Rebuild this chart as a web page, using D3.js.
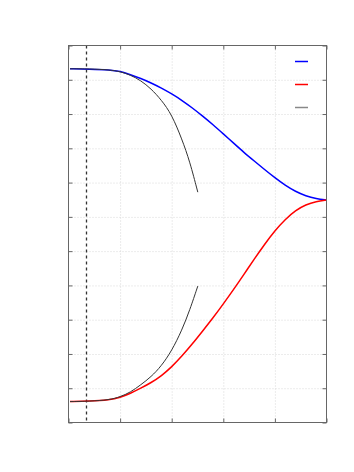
<!DOCTYPE html>
<html>
<head>
<meta charset="utf-8">
<script src="https://cdn.jsdelivr.net/npm/d3@7"></script>
<style>
  body { margin: 0; background: #fff; }
  .grid line { stroke: #d8d8d8; stroke-dasharray: 1,2; }
  .grid path { display: none; }
  .axis path { display: none; }
  .axis line { stroke: #666; }
</style>
</head>
<body>
<script>
// curve data (x: 0..5, y: 0..1.1)
const xFull = [0.03, 0.4, 0.8, 1.0, 1.2, 1.4, 1.6, 1.8, 2.0, 2.2, 2.4, 2.6, 2.8, 3.0,
               3.2, 3.4, 3.6, 3.8, 4.0, 4.2, 4.4, 4.6, 4.8, 5.0];
const blueVals = [1.032, 1.031, 1.029, 1.025, 1.015, 1.004, 0.991, 0.976, 0.959, 0.940,
                  0.918, 0.894, 0.869, 0.842, 0.815, 0.788, 0.763, 0.738, 0.714, 0.692,
                  0.674, 0.661, 0.653, 0.649];
const redVals = [0.061, 0.062, 0.066, 0.073, 0.085, 0.100, 0.116, 0.136, 0.162, 0.194,
                 0.229, 0.267, 0.305, 0.346, 0.388, 0.432, 0.477, 0.520, 0.560, 0.593,
                 0.619, 0.636, 0.645, 0.649];
// approximation curves, shorter
const xApprox = [0.03, 0.4, 0.8, 1.0, 1.2, 1.4, 1.6, 1.8, 2.0, 2.2, 2.35, 2.506];
const approxUpper = [1.032, 1.032, 1.029, 1.024, 1.014, 0.998, 0.974, 0.941, 0.899, 0.826, 0.762, 0.672];
const approxLower = [0.061, 0.062, 0.066, 0.075, 0.088, 0.110, 0.133, 0.165, 0.209, 0.270, 0.328, 0.398];

const markerX = 0.34;
const xTicks = [0, 1, 2, 3, 4, 5];
const yTicks = d3.range(0, 1.1001, 0.1);

const width = 354, height = 472;
const x = d3.scaleLinear().domain([0, 5]).range([68.5, 326.5]);
const y = d3.scaleLinear().domain([0, 1.1]).range([422.5, 45.5]);

const svg = d3.select('body').append('svg')
  .attr('width', width)
  .attr('height', height)
  .style('background-color', '#fff');

// grid
svg.append('g').attr('class', 'grid')
  .attr('transform', `translate(0,${y(0)})`)
  .call(d3.axisBottom(x).tickValues(xTicks.slice(1, -1)).tickSize(-(y(0) - y(1.1))).tickFormat(''));
svg.append('g').attr('class', 'grid')
  .attr('transform', `translate(${x(0)},0)`)
  .call(d3.axisLeft(y).tickValues(yTicks.slice(1, -1)).tickSize(-(x(5) - x(0))).tickFormat(''));

// inward ticks on all four sides
svg.append('g').attr('class', 'axis')
  .attr('transform', `translate(0,${y(0)})`)
  .call(d3.axisBottom(x).tickValues(xTicks).tickSize(-4).tickFormat(''));
svg.append('g').attr('class', 'axis')
  .attr('transform', `translate(0,${y(1.1)})`)
  .call(d3.axisTop(x).tickValues(xTicks).tickSize(-4).tickFormat(''));
svg.append('g').attr('class', 'axis')
  .attr('transform', `translate(${x(0)},0)`)
  .call(d3.axisLeft(y).tickValues(yTicks).tickSize(-4).tickFormat(''));
svg.append('g').attr('class', 'axis')
  .attr('transform', `translate(${x(5)},0)`)
  .call(d3.axisRight(y).tickValues(yTicks).tickSize(-4).tickFormat(''));

// dashed marker
svg.append('line')
  .attr('x1', Math.round(x(markerX)) + 0.5).attr('x2', Math.round(x(markerX)) + 0.5)
  .attr('y1', y(1.1)).attr('y2', y(0))
  .attr('stroke', '#333').attr('stroke-width', 1.3)
  .attr('stroke-dasharray', '3,3');

const line = d3.line().x(d => x(d[0])).y(d => y(d[1])).curve(d3.curveBasis);

svg.append('path').datum(d3.zip(xFull, blueVals))
  .attr('d', line).attr('fill', 'none').attr('stroke', '#0000ff').attr('stroke-width', 1.5);
svg.append('path').datum(d3.zip(xFull, redVals))
  .attr('d', line).attr('fill', 'none').attr('stroke', '#ff0000').attr('stroke-width', 1.5);
svg.append('path').datum(d3.zip(xApprox, approxUpper))
  .attr('d', line).attr('fill', 'none').attr('stroke', '#333').attr('stroke-width', 1);
svg.append('path').datum(d3.zip(xApprox, approxLower))
  .attr('d', line).attr('fill', 'none').attr('stroke', '#333').attr('stroke-width', 1);

// frame
svg.append('rect')
  .attr('x', x(0)).attr('y', y(1.1))
  .attr('width', x(5) - x(0)).attr('height', y(0) - y(1.1))
  .attr('fill', 'none').attr('stroke', '#666');

// legend (no labels)
const legendColors = ['#0000ff', '#ff0000', '#888'];
svg.selectAll('.leg').data(legendColors).enter().append('line')
  .attr('class', 'leg')
  .attr('x1', 295).attr('x2', 308)
  .attr('y1', (d, i) => 61.5 + i * 23).attr('y2', (d, i) => 61.5 + i * 23)
  .attr('stroke', d => d).attr('stroke-width', 1.5);
</script>
</body>
</html>
